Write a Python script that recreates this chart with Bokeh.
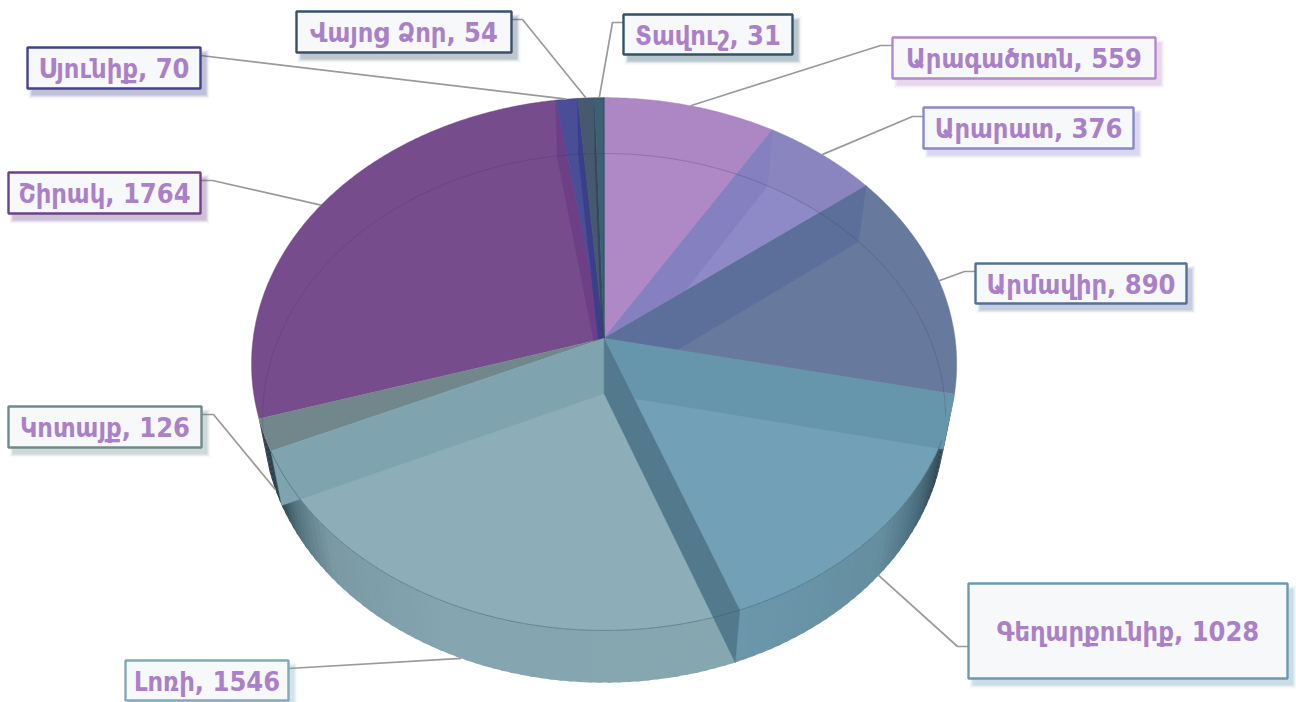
import numpy as np
from bokeh.plotting import figure
from bokeh.models import Range1d
from bokeh.core.properties import value
from bokeh.embed import file_html
from bokeh.resources import INLINE

# ---- data (clockwise from 12 o'clock) ----
names = ["Արագածոտն", "Արարատ", "Արմավիր", "Գեղարքունիք", "Լոռի", "Կոտայք", "Շիրակ", "Սյունիք", "Վայոց Ձոր", "Տավուշ"]
values = [559, 376, 890, 1028, 1546, 126, 1764, 70, 54, 31]

# ---- styles ----
top_col = ["#AD86C4", "#8B85BF", "#677A9E", "#72A0B7", "#8DAEB9", "#71878C", "#774C8C", "#4A4E96", "#47596F", "#3E6075"]
inner_col = ["#AF88C6", "#8E89C7", "#68799E", "#70A0B6", "#8DAEB9", "#71878C", "#774C8C", "#4A4E96", "#47596F", "#3E6075"]
band_col = ["#AD86C4", "#8580C0", "#5B6F9A", "#6596AB", "#527A8C", "#7FA4AF", "#6C3F86", "#3B3F8A", "#35465E", "#2E4A66"]
border_col = ["#B388CC", "#8A88CA", "#557099", "#6A9AB2", "#80ABBA", "#6F8A8C", "#6E418A", "#42428F", "#3A4F6B", "#2F5468"]
# label boxes: left, top, right, bottom ; leader elbow x ; leader start y
boxes = [(892, 37, 1155, 78), (923, 107, 1133, 148), (975, 263, 1186, 303), (968, 583, 1287, 678), (125, 660, 288, 700),
         (8, 406, 201, 447), (8, 172, 200, 213), (27, 47, 200, 88), (296, 11, 511, 52), (623, 14, 792, 54)]
leader_y = [45, 116, 271, 646, 668, 414, 180, 55, 19, 22]
elbow_x = [880, 912, 964, 957, None, 213, 212, None, 522, 612]
leader_plane = ["top", "top", "top", "bottom", "bottom", "bottom", "top", "top", "top", "top"]
FONT = "DejaVu Sans Condensed"
FSIZE = "27px"
TEXT_COL = "#AA80C9"

# perspective model of the two discs, in page pixels
TOP = dict(x0=603.6, y0=338.0, C=351.0, B=264.0, k=0.0958)
BOT = dict(x0=603.6, y0=393.0, C=340.0, B=262.3, k=0.0929)

def rim(th_deg, d):
    th = np.radians(th_deg)
    u, v = np.sin(th), np.cos(th)
    den = 1 + d["k"] * v
    return d["x0"] + d["C"] * u / den, d["y0"] - d["B"] * v / den

def arc(a, b, d, n=None):
    n = n or max(3, int(abs(b - a)) * 2 + 2)
    t = np.linspace(a, b, n)
    return rim(t, d)

total = sum(values)
edges = np.concatenate([[0], np.cumsum(values) / total * 360.0])

p = figure(width=1296, height=702, output_backend="svg", toolbar_location=None,
           x_range=Range1d(0, 1296), y_range=Range1d(702, 0), min_border=0,
           background_fill_color="white", border_fill_color="white", outline_line_color=None)
p.axis.visible = False
p.grid.visible = False

def lerp_col(stops, t):
    ts = [s[0] for s in stops]
    cs = np.array([[int(s[1][i:i + 2], 16) for i in (1, 3, 5)] for s in stops], float)
    c = [np.interp(t, ts, cs[:, i]) for i in range(3)]
    return "#%02x%02x%02x" % tuple(int(round(x)) for x in c)

def side(a, b, stops):
    xs, ys, cols = [], [], []
    ang = np.arange(a, b, 1.5).tolist() + [b]
    for t0, t1 in zip(ang[:-1], ang[1:]):
        xa, ya = rim(np.array([t0, t1 + 0.6]), TOP)
        xb, yb = rim(np.array([t1 + 0.6, t0]), BOT)
        xs.append(list(xa) + list(xb)); ys.append(list(ya) + list(yb))
        cols.append(lerp_col(stops, (t0 + t1) / 2))
    p.patches(xs, ys, fill_color=cols, line_color=None)

e = edges
side(e[3], e[4], [(e[3], "#2E4655"), (e[3] + 8, "#2F4552"), (e[3] + 18, "#4A6C7C"), (e[3] + 30, "#658E9F"), (e[4], "#6C97AB")])
side(e[4], e[6], [(e[4], "#86A6B0"), (e[4] + 45, "#85A5B0"), (e[4] + 68, "#7A99A4"), (e[4] + 78, "#557480"), (e[5], "#2F4650"), (e[6], "#2A3A44")])

def wedge(i, d, col):
    x, y = arc(edges[i], edges[i + 1], d)
    p.patch([d["x0"]] + list(x), [d["y0"]] + list(y), fill_color=col, line_color=col, line_width=0.4)

def wall(th, col, alpha=1.0):
    xt, yt = rim(th, TOP); xb, yb = rim(th, BOT)
    p.patch([TOP["x0"], xt, xb, BOT["x0"]], [TOP["y0"], yt, yb, BOT["y0"]],
            fill_color=col, fill_alpha=alpha, line_color=col, line_alpha=alpha, line_width=0.4)

def back_layer(i):
    wedge(i, TOP, top_col[i])
    if i in (0, 1, 2):
        wedge(i, BOT, inner_col[i])

# painter's order: each later top face trims the wall drawn before it
back_layer(0)
back_layer(1); wall(edges[1], band_col[1])
back_layer(2); wall(edges[2], band_col[2])
wedge(3, TOP, top_col[3]); wall(edges[3], band_col[3])
wedge(6, TOP, top_col[6]); wall(edges[7], band_col[6])
wedge(7, TOP, top_col[7]); wall(edges[8], band_col[7])
wedge(8, TOP, top_col[8]); wall(edges[9], band_col[8])
wedge(9, TOP, top_col[9]); wall(360.0, band_col[9])
wedge(5, TOP, top_col[5])
wedge(4, TOP, top_col[4]); wall(edges[5], band_col[5])
wall(edges[4], band_col[4])

# thin rim lines: far disc seen through the glass, near edge of the top disc
for a, b in [(edges[6] + 7, 360.0), (0.0, edges[3] - 7)]:
    x, y = arc(a, b, BOT)
    p.line(x, y, line_color="#3A3A55", line_alpha=0.25, line_width=1)
x, y = arc(edges[3] + 10, edges[5], TOP)
p.line(x, y, line_color="#3F5F6E", line_alpha=0.55, line_width=1)

# leaders
for i in range(len(values)):
    mid = (edges[i] + edges[i + 1]) / 2
    ex, ey = rim(mid, TOP if leader_plane[i] == "top" else BOT)
    l, t, r, b = boxes[i]
    sx = r if (l + r) / 2 < ex else l
    if elbow_x[i] is None:
        xs, ys = [sx, ex], [leader_y[i], ey]
    else:
        xs, ys = [sx, elbow_x[i], ex], [leader_y[i], leader_y[i], ey]
    p.line(xs, ys, line_color="#9A9A9A", line_width=1.7)

# label boxes with soft shadows, then text
for i, (l, t, r, b) in enumerate(boxes):
    for grow, a in [(4, 0.06), (2.5, 0.11), (1, 0.2)]:
        p.quad(left=l + 5 - grow, right=r + 5 + grow, top=t + 6 - grow, bottom=b + 6 + grow,
               fill_color=border_col[i], fill_alpha=a, line_color=None)
    p.quad(left=l, right=r, top=t, bottom=b, fill_color="#F7F8FA", line_color=border_col[i], line_width=2.4)
    p.text([(l + r) / 2], [(t + b) / 2 + 0.5], text=[f"{names[i]}, {values[i]}"], text_align="center", text_baseline="middle",
           text_color=TEXT_COL, text_font=value(FONT), text_font_style="bold", text_font_size=FSIZE)

open("out.html", "w").write(file_html(p, INLINE))
